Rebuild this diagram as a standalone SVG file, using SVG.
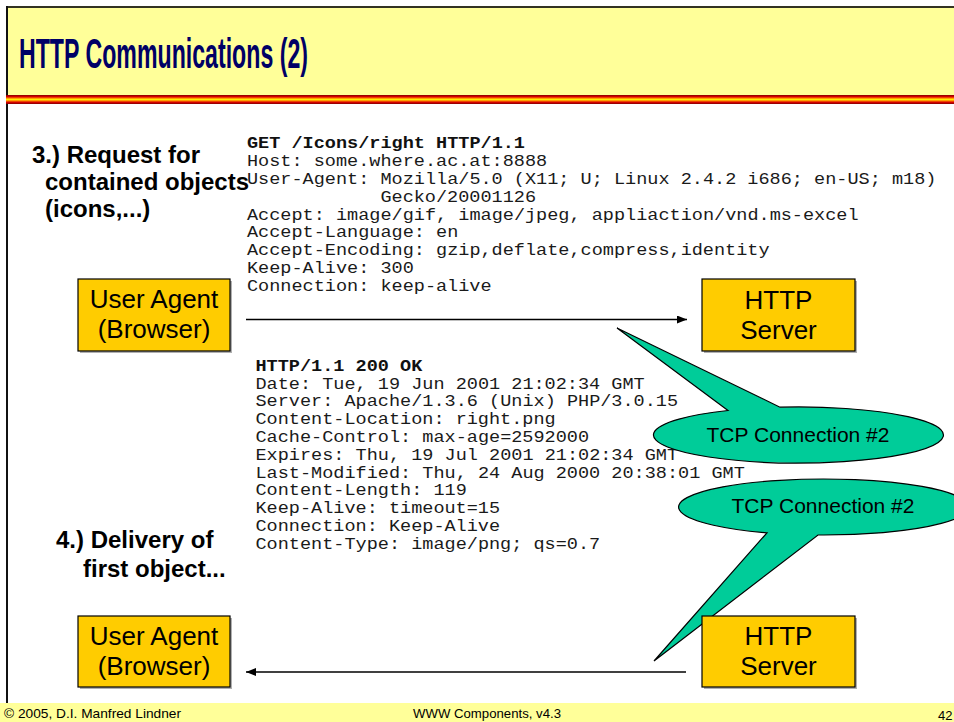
<svg xmlns="http://www.w3.org/2000/svg" width="954" height="722" viewBox="0 0 954 722">
<defs>
<linearGradient id="stripe" x1="0" y1="0" x2="0" y2="1">
<stop offset="0" stop-color="#800000"/>
<stop offset="0.2" stop-color="#E00000"/>
<stop offset="0.38" stop-color="#FF9900"/>
<stop offset="0.5" stop-color="#FFEE00"/>
<stop offset="0.62" stop-color="#FF9900"/>
<stop offset="0.8" stop-color="#E00000"/>
<stop offset="1" stop-color="#800000"/>
</linearGradient>
<marker id="ah" viewBox="0 0 10 8" refX="10" refY="4" markerWidth="10" markerHeight="8" markerUnits="userSpaceOnUse" orient="auto">
<path d="M0,0 L10,4 L0,8 Z" fill="#000"/>
</marker>
</defs>
<style>
.lbl{font-family:"Liberation Sans",Arial,sans-serif;font-weight:bold;font-size:24px;fill:#000}
.mono{font-family:"Liberation Mono","Courier New",monospace;font-size:16.5px;fill:#1a1a1a}
.monob{font-family:"Liberation Mono","Courier New",monospace;font-size:16.5px;font-weight:bold;fill:#111}
.box{fill:#FFCC00;stroke:#000;stroke-width:1.2}
.shadow{fill:#B0B0B0}
.btxt{font-family:"Liberation Sans",Arial,sans-serif;font-size:26px;fill:#000;text-anchor:middle}
.call{fill:#00CC99;stroke:#000;stroke-width:1.2}
.ctxt{font-family:"Liberation Sans",Arial,sans-serif;font-size:21px;fill:#000;text-anchor:middle}
.foot{font-family:"Liberation Sans",Arial,sans-serif;font-size:13px;fill:#000}
.conn{stroke:#000;stroke-width:1.5;fill:none}
</style>
<rect x="0" y="0" width="954" height="722" fill="#fff"/>
<g id="frame">
<rect x="6" y="7" width="948" height="88" fill="#FFFF99"/>
<line x1="6" y1="7" x2="954" y2="7" stroke="#333322" stroke-width="2"/>
<line x1="7" y1="6" x2="7" y2="703" stroke="#111" stroke-width="2"/>
<rect x="6" y="95" width="948" height="9" fill="url(#stripe)"/>
<rect x="0" y="703" width="954" height="19" fill="#FFFF99"/>
</g>
<g id="title">
<text x="19" y="68" font-family="Liberation Sans, Arial, sans-serif" font-weight="bold" font-size="42" fill="#000066" textLength="289" lengthAdjust="spacingAndGlyphs">HTTP Communications (2)</text>
</g>
<g id="footer">
<text class="foot" x="4" y="718" textLength="177" lengthAdjust="spacingAndGlyphs">© 2005, D.I. Manfred Lindner</text>
<text class="foot" x="413" y="718" textLength="148" lengthAdjust="spacingAndGlyphs">WWW Components, v4.3</text>
<text class="foot" x="938" y="720" font-size="16">42</text>
</g>
<g id="step3">
<text class="lbl" x="32" y="163">3.) Request for</text>
<text class="lbl" x="45" y="190">contained objects</text>
<text class="lbl" x="45" y="217">(icons,...)</text>
</g>
<g id="step4">
<text class="lbl" x="56" y="548">4.) Delivery of</text>
<text class="lbl" x="83" y="577">first object...</text>
</g>
<g id="request" lengthAdjust="spacingAndGlyphs">
<text class="monob" x="247" y="148.3" textLength="278" lengthAdjust="spacingAndGlyphs">GET /Icons/right HTTP/1.1</text>
<text class="mono" x="247" y="166.1" textLength="300.2" lengthAdjust="spacingAndGlyphs">Host: some.where.ac.at:8888</text>
<text class="mono" x="247" y="183.9" textLength="689.4" lengthAdjust="spacingAndGlyphs">User-Agent: Mozilla/5.0 (X11; U; Linux 2.4.2 i686; en-US; m18)</text>
<text class="mono" x="380.4" y="201.7" textLength="155.7" lengthAdjust="spacingAndGlyphs">Gecko/20001126</text>
<text class="mono" x="247" y="219.5" textLength="611.6" lengthAdjust="spacingAndGlyphs">Accept: image/gif, image/jpeg, appliaction/vnd.ms-excel</text>
<text class="mono" x="247" y="237.3" textLength="211.3" lengthAdjust="spacingAndGlyphs">Accept-Language: en</text>
<text class="mono" x="247" y="255.1" textLength="522.6" lengthAdjust="spacingAndGlyphs">Accept-Encoding: gzip,deflate,compress,identity</text>
<text class="mono" x="247" y="272.9" textLength="166.8" lengthAdjust="spacingAndGlyphs">Keep-Alive: 300</text>
<text class="mono" x="247" y="290.7" textLength="244.6" lengthAdjust="spacingAndGlyphs">Connection: keep-alive</text>
</g>
<g id="response">
<text class="monob" x="255.5" y="370.7" textLength="166.8" lengthAdjust="spacingAndGlyphs">HTTP/1.1 200 OK</text>
<text class="mono" x="255.5" y="388.5" textLength="389.2" lengthAdjust="spacingAndGlyphs">Date: Tue, 19 Jun 2001 21:02:34 GMT</text>
<text class="mono" x="255.5" y="406.3" textLength="422.6" lengthAdjust="spacingAndGlyphs">Server: Apache/1.3.6 (Unix) PHP/3.0.15</text>
<text class="mono" x="255.5" y="424.1" textLength="300.2" lengthAdjust="spacingAndGlyphs">Content-Location: right.png</text>
<text class="mono" x="255.5" y="441.9" textLength="333.6" lengthAdjust="spacingAndGlyphs">Cache-Control: max-age=2592000</text>
<text class="mono" x="255.5" y="459.7" textLength="422.6" lengthAdjust="spacingAndGlyphs">Expires: Thu, 19 Jul 2001 21:02:34 GMT</text>
<text class="mono" x="255.5" y="477.5" textLength="489.3" lengthAdjust="spacingAndGlyphs">Last-Modified: Thu, 24 Aug 2000 20:38:01 GMT</text>
<text class="mono" x="255.5" y="495.3" textLength="211.3" lengthAdjust="spacingAndGlyphs">Content-Length: 119</text>
<text class="mono" x="255.5" y="513.1" textLength="244.6" lengthAdjust="spacingAndGlyphs">Keep-Alive: timeout=15</text>
<text class="mono" x="255.5" y="530.9" textLength="244.6" lengthAdjust="spacingAndGlyphs">Connection: Keep-Alive</text>
<text class="mono" x="255.5" y="548.7" textLength="344.7" lengthAdjust="spacingAndGlyphs">Content-Type: image/png; qs=0.7</text>
</g>
<g id="connectors">
<line class="conn" x1="246" y1="319.5" x2="687" y2="319.5" marker-end="url(#ah)"/>
<line class="conn" x1="686" y1="672" x2="246" y2="672" marker-end="url(#ah)"/>
</g>
<g id="callout1">
<path class="call" d="M728,410.5 L617,328 L780,407.2 A145,28 0 1,1 728,410.5 Z"/>
<text class="ctxt" x="798" y="442">TCP Connection #2</text>
</g>
<g id="callout2">
<path class="call" d="M767,532.8 L654,661 L818,535 A145,28 0 1,0 767,532.8 Z"/>
<text class="ctxt" x="823" y="513">TCP Connection #2</text>
</g>
<g id="ua1">
<rect class="shadow" x="80" y="281" width="152" height="72"/>
<rect class="box" x="78" y="279" width="152" height="72"/>
<text class="btxt" x="154" y="308">User Agent</text>
<text class="btxt" x="154" y="338">(Browser)</text>
</g>
<g id="server1">
<rect class="shadow" x="704" y="281" width="153" height="72"/>
<rect class="box" x="702" y="279" width="153" height="72"/>
<text class="btxt" x="778.5" y="309">HTTP</text>
<text class="btxt" x="778.5" y="339">Server</text>
</g>
<g id="ua2">
<rect class="shadow" x="80" y="618" width="152" height="71"/>
<rect class="box" x="78" y="616" width="152" height="71"/>
<text class="btxt" x="154" y="645">User Agent</text>
<text class="btxt" x="154" y="675">(Browser)</text>
</g>
<g id="server2">
<rect class="shadow" x="704" y="618" width="153" height="71"/>
<rect class="box" x="702" y="616" width="153" height="71"/>
<text class="btxt" x="778.5" y="645">HTTP</text>
<text class="btxt" x="778.5" y="675">Server</text>
</g>
</svg>
